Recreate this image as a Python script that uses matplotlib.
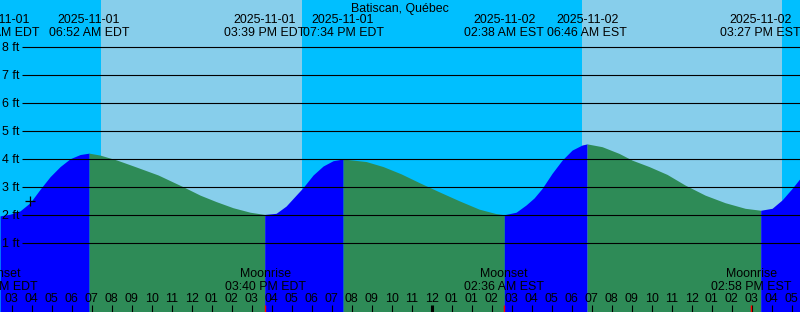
import matplotlib
matplotlib.use('Agg')
import matplotlib.pyplot as plt

plt.rcParams['font.family'] = ['Liberation Sans', 'DejaVu Sans']
plt.rcParams['font.size'] = 8.9

# chart geometry in pixels
W, H = 800, 312
PX_PER_HOUR = 20.0
T0 = 2.415            # left edge, hours after 2025-11-01 00:00 EDT
ZERO_Y = 271.3        # pixel row of 0 ft
PX_PER_FT = 28.0

NIGHT = '#00BFFF'
DAY = '#87CEEB'
FLOOD = '#0000FF'
EBB = '#2E8B57'

# --- data (times are hours after 2025-11-01 00:00 EDT) ---
rise1_t = [2.42, 2.92, 3.42, 3.92, 4.42, 4.92, 5.42, 5.92, 6.42, 6.87]
rise1_ft = [1.98, 2.04, 2.16, 2.45, 2.93, 3.38, 3.74, 4.02, 4.17, 4.22]

fall1_t = [6.87, 7.42, 8.27, 9.17, 10.32, 11.57, 12.42, 13.22, 14.07, 14.92, 15.65]
fall1_ft = [4.22, 4.15, 3.97, 3.74, 3.44, 3.02, 2.72, 2.49, 2.27, 2.11, 2.03]

rise2_t = [15.65, 16.22, 16.72, 17.22, 17.57, 18.07, 18.57, 19.07, 19.57]
rise2_ft = [2.03, 2.07, 2.33, 2.72, 2.99, 3.44, 3.76, 3.95, 4.01]

fall2_t = [19.57, 20.72, 21.57, 22.47, 23.37, 24.37, 25.37, 26.37, 27.22, 27.63]
fall2_ft = [4.01, 3.92, 3.74, 3.48, 3.17, 2.84, 2.52, 2.22, 2.06, 2.02]

rise3_t = [27.63, 28.22, 28.72, 29.12, 29.52, 30.02, 30.52, 31.02, 31.52, 31.77]
rise3_ft = [2.02, 2.11, 2.37, 2.62, 2.96, 3.50, 3.97, 4.33, 4.51, 4.55]

fall3_t = [31.77, 32.52, 33.37, 34.02, 34.87, 35.77, 36.67, 37.67, 38.67, 39.67, 40.45]
fall3_ft = [4.55, 4.45, 4.21, 3.97, 3.74, 3.46, 3.08, 2.72, 2.45, 2.25, 2.18]

rise4_t = [40.45, 41.02, 41.52, 42.02, 42.42]
rise4_ft = [2.18, 2.25, 2.55, 2.96, 3.32]

# daylight (sunrise, sunset)
day_start = [7.47, 31.52]
day_end = [17.52, 41.50]

# high / low water labels along the top
tide_t = [2.37, 6.87, 15.65, 19.57, 27.63, 31.77, 40.45]
tide_date = ['2025-11-01', '2025-11-01', '2025-11-01', '2025-11-01',
             '2025-11-02', '2025-11-02', '2025-11-02']
tide_time = ['02:22 AM EDT', '06:52 AM EDT', '03:39 PM EDT', '07:34 PM EDT',
             '02:38 AM EST', '06:46 AM EST', '03:27 PM EST']

# moon events along the bottom
moon_t = [2.27, 15.67, 27.60, 39.97]
moon_name = ['Moonset', 'Moonrise', 'Moonset', 'Moonrise']
moon_time = ['02:16 AM EDT', '03:40 PM EDT', '02:36 AM EST', '02:58 PM EST']

# current time mark
now_t = 3.92
now_ft = 2.51

depth_levels = [1, 2, 3, 4, 5, 6, 7, 8]

hour_ticks = list(range(3, 43))
hour_labels = ['03', '04', '05', '06', '07', '08', '09', '10', '11', '12',
               '01', '02', '03', '04', '05', '06', '07', '08', '09', '10',
               '11', '12', '01', '01', '02', '03', '04', '05', '06', '07',
               '08', '09', '10', '11', '12', '01', '02', '03', '04', '05']
midnight = 24


def ft_at(ypx):
    return (ZERO_Y - ypx) / PX_PER_FT


def hour_at(xpx):
    return T0 + xpx / PX_PER_HOUR


fig = plt.figure(figsize=(W / 100, H / 100), dpi=100)
ax = fig.add_axes([0, 0, 1, 1])
ax.set_xlim(T0, T0 + W / PX_PER_HOUR)
ax.set_ylim(ft_at(H), ft_at(0))
ax.axis('off')
ax.set_facecolor(NIGHT)
fig.patch.set_facecolor(NIGHT)

# day / night background
for s, e in zip(day_start, day_end):
    ax.axvspan(s, e, color=DAY, lw=0, zorder=0)

# tide curve, blue while rising, green while falling
segments = [(rise1_t, rise1_ft, FLOOD), (fall1_t, fall1_ft, EBB),
            (rise2_t, rise2_ft, FLOOD), (fall2_t, fall2_ft, EBB),
            (rise3_t, rise3_ft, FLOOD), (fall3_t, fall3_ft, EBB),
            (rise4_t, rise4_ft, FLOOD)]
bottom = ft_at(H)
for t, lvl, c in segments:
    ax.fill_between(t, bottom, lvl, color=c, lw=0, zorder=1)

# depth lines and labels
line_x0 = hour_at(21.7)
for d in depth_levels:
    ax.plot([line_x0, T0 + W / PX_PER_HOUR], [d, d], color='black', lw=0.8,
            zorder=2, solid_capstyle='butt')
    ax.text(hour_at(2.5), d - 3.6 / PX_PER_FT, f'{d} ft', ha='left',
            va='baseline', zorder=3)

ax.plot([now_t], [now_ft], marker='+', color='black', ms=7, mew=0.9, zorder=3)

# title
ax.text(hour_at(400), ft_at(11.7), 'Batiscan, Québec', ha='center',
        va='baseline', zorder=3)

# tide labels
for t, d, s in zip(tide_t, tide_date, tide_time):
    ax.text(t, ft_at(23.3), d, ha='center', va='baseline', zorder=3)
    ax.text(t, ft_at(36.0), s, ha='center', va='baseline', zorder=3)

# moon labels
for t, n, s in zip(moon_t, moon_name, moon_time):
    ax.text(t, ft_at(277.3), n, ha='center', va='baseline', zorder=3)
    ax.text(t, ft_at(290.0), s, ha='center', va='baseline', zorder=3)

# hour ticks along the bottom
for h, lab in zip(hour_ticks, hour_labels):
    ax.text(h, ft_at(301.7), lab, ha='center', va='baseline', zorder=3)
    lw = 2.2 if h == midnight else 0.8
    ax.plot([h, h], [ft_at(304.5), ft_at(H)], color='black', lw=lw,
            zorder=3, solid_capstyle='butt')
for t in moon_t:
    ax.plot([t, t], [ft_at(304.5), ft_at(H)], color='red', lw=1.0,
            zorder=4, solid_capstyle='butt')

fig.savefig('out.png', dpi=100, facecolor=fig.get_facecolor())
